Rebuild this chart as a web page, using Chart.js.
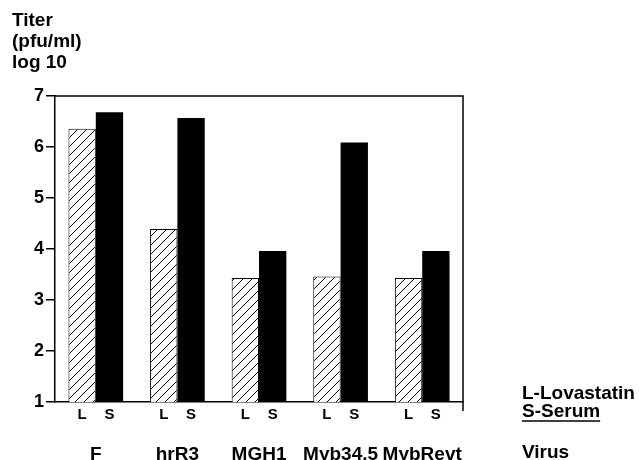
<!DOCTYPE html>
<html>
<head>
<meta charset="utf-8">
<script src="https://cdn.jsdelivr.net/npm/chart.js@4"></script>
<style>
  body { margin: 0; background: #fff; }
  canvas { display: block; }
</style>
</head>
<body>
<canvas id="titerChart" width="639" height="460"></canvas>
<script>
const categories = ["F", "hrR3", "MGH1", "Myb34.5", "MybRevt"];
const lovastatin = [6.36, 4.39, 3.43, 3.46, 3.43];
const serum = [6.68, 6.57, 3.96, 6.09, 3.96];
const barLetters = ["L", "S"];
const titleLines = ["Titer", "(pfu/ml)", "log 10"];

const FONT = "'Liberation Sans', Arial, Helvetica, sans-serif";

// diagonal hatch for the lovastatin bars
function makeHatch() {
  const size = 9;
  const c = document.createElement("canvas");
  c.width = size;
  c.height = size;
  const g = c.getContext("2d");
  g.fillStyle = "#fff";
  g.fillRect(0, 0, size, size);
  g.strokeStyle = "#000";
  g.lineWidth = 1;
  g.beginPath();
  g.moveTo(0, size);
  g.lineTo(size, 0);
  g.moveTo(-1, 1);
  g.lineTo(1, -1);
  g.moveTo(size - 1, size + 1);
  g.lineTo(size + 1, size - 1);
  g.stroke();
  return g.createPattern(c, "repeat");
}

const extras = {
  id: "extras",
  afterDraw(chart) {
    const ctx = chart.ctx;
    const area = chart.chartArea;
    ctx.save();

    // top and right frame lines
    ctx.strokeStyle = "#000";
    ctx.lineWidth = 1.5;
    ctx.beginPath();
    ctx.moveTo(area.left, area.top);
    ctx.lineTo(area.right, area.top);
    ctx.lineTo(area.right, area.bottom + 9);
    ctx.stroke();

    ctx.fillStyle = "#000";

    // axis title, top left
    ctx.font = "bold 19px " + FONT;
    ctx.textAlign = "left";
    ctx.textBaseline = "alphabetic";
    titleLines.forEach((t, i) => ctx.fillText(t, 12, 26 + i * 21));

    // L / S under each bar
    ctx.font = "bold 15px " + FONT;
    ctx.textAlign = "center";
    chart.data.datasets.forEach((ds, di) => {
      chart.getDatasetMeta(di).data.forEach((bar) => {
        ctx.fillText(barLetters[di], bar.x, area.bottom + 17);
      });
    });

    // key at the right
    ctx.font = "bold 19px " + FONT;
    ctx.textAlign = "left";
    const kx = area.right + 59;
    ctx.fillText("L-Lovastatin", kx, area.bottom - 3);
    ctx.fillText("S-Serum", kx, area.bottom + 15);
    const w = ctx.measureText("S-Serum").width;
    ctx.lineWidth = 1.5;
    ctx.beginPath();
    ctx.moveTo(kx, area.bottom + 19);
    ctx.lineTo(kx + w, area.bottom + 19);
    ctx.stroke();
    ctx.fillText("Virus", kx, 458);

    ctx.restore();
  },
};

const ctx = document.getElementById("titerChart").getContext("2d");
const hatch = makeHatch();

new Chart(ctx, {
  type: "bar",
  data: {
    labels: categories,
    datasets: [
      {
        label: "L-Lovastatin",
        data: lovastatin,
        backgroundColor: hatch,
        borderColor: "#000",
        borderWidth: 1,
        borderSkipped: false,
      },
      {
        label: "S-Serum",
        data: serum,
        backgroundColor: "#000",
        borderColor: "#000",
        borderWidth: 0,
      },
    ],
  },
  options: {
    responsive: false,
    animation: false,
    events: [],
    categoryPercentage: 0.67,
    barPercentage: 1,
    layout: {
      padding: { left: 0, right: 176, top: 96, bottom: 0 },
    },
    plugins: {
      legend: { display: false },
      tooltip: { enabled: false },
    },
    scales: {
      x: {
        grid: { display: false, drawTicks: false },
        border: { display: true, color: "#000", width: 1.5 },
        ticks: {
          color: "#000",
          padding: 41,
          font: { family: FONT, size: 19, weight: "bold" },
          maxRotation: 0,
          autoSkip: false,
        },
        afterFit(scale) {
          scale.height = 58;
        },
      },
      y: {
        min: 1,
        max: 7,
        ticks: {
          stepSize: 1,
          color: "#000",
          padding: 2,
          font: { family: FONT, size: 18, weight: "bold" },
        },
        grid: {
          drawOnChartArea: false,
          drawTicks: true,
          tickLength: 9,
          tickColor: "#000",
          lineWidth: 1.5,
        },
        border: { display: true, color: "#000", width: 1.5 },
        afterFit(scale) {
          scale.width = 55;
        },
      },
    },
  },
  plugins: [extras],
});
</script>
</body>
</html>
